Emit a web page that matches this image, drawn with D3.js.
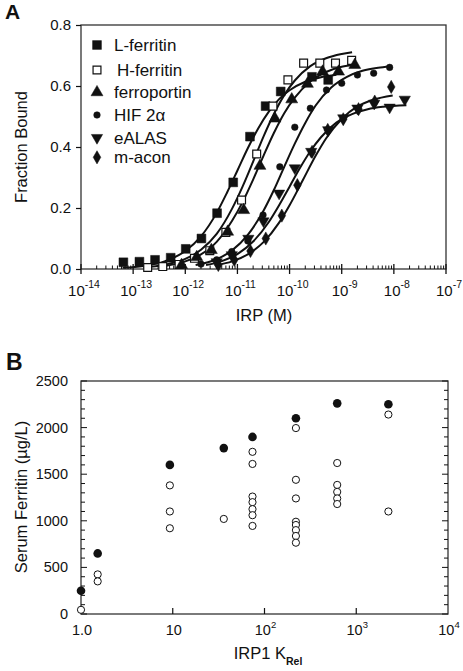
<!DOCTYPE html>
<html><head><meta charset="utf-8">
<script src="https://cdn.jsdelivr.net/npm/d3@7"></script>
<style>
html,body{margin:0;padding:0;background:#fff;}
svg{display:block;font-family:"Liberation Sans",Arial,Helvetica,sans-serif;}
</style></head>
<body><svg id="c" width="463" height="671"></svg>
<script>
// ---------- Panel A data ----------
const seriesNames = ["L-ferritin","H-ferritin","ferroportin","HIF 2α","eALAS","m-acon"];
const xTickExps = [-14,-13,-12,-11,-10,-9,-8,-7];
const yTicksA = [0.0,0.2,0.4,0.6,0.8];

const lFerritinConc  = [6.5e-14,1.32e-13,2.63e-13,5.25e-13,1.02e-12,2.04e-12,4.07e-12,8.3e-12,1.74e-11,3.47e-11,6.76e-11,2.69e-10,5.5e-10];
const lFerritinBound = [0.022,0.024,0.030,0.037,0.066,0.10,0.183,0.284,0.434,0.534,0.582,0.630,0.620];
const hFerritinConc  = [1.9e-13,3.7e-13,7.6e-13,1.5e-12,2.95e-12,6.0e-12,1.2e-11,2.34e-11,4.8e-11,9.3e-11,1.86e-10,3.8e-10,7.6e-10,1.55e-9];
const hFerritinBound = [0.005,0.008,0.015,0.035,0.06,0.12,0.226,0.377,0.534,0.620,0.675,0.675,0.675,0.684];
const ferroportinConc  = [8.5e-13,1.66e-12,3.16e-12,6.5e-12,1.32e-11,2.7e-11,5.25e-11,1.1e-10,2.2e-10,4.3e-10,8.7e-10,1.78e-9];
const ferroportinBound = [0.013,0.039,0.062,0.122,0.193,0.338,0.493,0.556,0.607,0.647,0.647,0.669];
const hif2aConc  = [2.0e-12,4.0e-12,7.8e-12,1.58e-11,3.1e-11,6.5e-11,1.26e-10,2.5e-10,5.1e-10,1.0e-9,2.0e-9,4.1e-9,8.3e-9];
const hif2aBound = [0.016,0.030,0.057,0.092,0.177,0.335,0.465,0.527,0.587,0.609,0.636,0.642,0.661];
const ealasConc  = [4.0e-12,7.8e-12,1.62e-11,3.16e-11,6.3e-11,1.26e-10,2.6e-10,5.5e-10,1.07e-9,2.0e-9,4.2e-9,8.3e-9,1.62e-8];
const ealasBound = [0.023,0.046,0.10,0.157,0.248,0.331,0.385,0.456,0.495,0.527,0.543,0.530,0.556];
const maconConc  = [4.3e-12,8.7e-12,1.78e-11,3.5e-11,7.1e-11,1.41e-10,2.7e-10,5.4e-10,1.07e-9,2.1e-9,4.3e-9,8.9e-9];
const maconBound = [0.013,0.030,0.059,0.10,0.175,0.275,0.384,0.456,0.491,0.524,0.549,0.597];

// fitted curves
const lFerritinFitConc  = [6.3e-14,1.58e-13,4e-13,1e-12,2e-12,4e-12,6.3e-12,1e-11,1.58e-11,2.5e-11,4e-11,6.3e-11,1e-10,2e-10,4e-10,7.9e-10];
const lFerritinFitBound = [0.004,0.010,0.025,0.059,0.107,0.184,0.250,0.323,0.396,0.461,0.516,0.557,0.586,0.614,0.629,0.637];
const hFerritinFitConc  = [1.58e-13,4e-13,1e-12,2e-12,4e-12,7.9e-12,1.26e-11,2e-11,3.16e-11,5e-11,7.9e-11,1.26e-10,2.5e-10,5e-10,1e-9,1.58e-9];
const hFerritinFitBound = [0.005,0.014,0.033,0.063,0.115,0.198,0.271,0.352,0.434,0.508,0.570,0.618,0.665,0.691,0.705,0.711];
const ferroportinFitConc  = [4e-13,1e-12,2e-12,4e-12,7.9e-12,1.26e-11,2e-11,3.16e-11,5e-11,7.9e-11,1.26e-10,2.5e-10,5e-10,1e-9,1.78e-9];
const ferroportinFitBound = [0.010,0.025,0.048,0.089,0.158,0.220,0.293,0.371,0.446,0.511,0.562,0.615,0.646,0.663,0.670];
const hif2aFitConc  = [1.58e-12,4e-12,7.9e-12,1.58e-11,3.16e-11,5e-11,7.9e-11,1.26e-10,2e-10,3.16e-10,6.3e-10,1.26e-9,2.5e-9,5e-9,8.3e-9];
const hif2aFitBound = [0.013,0.032,0.061,0.112,0.191,0.259,0.335,0.411,0.479,0.536,0.595,0.630,0.650,0.660,0.664];
const ealasFitConc  = [2.5e-12,5e-12,1e-11,2e-11,4e-11,6.3e-11,1e-10,1.58e-10,2.5e-10,4e-10,7.9e-10,1.58e-9,3.16e-9,6.3e-9,1.74e-8];
const ealasFitBound = [0.013,0.026,0.049,0.090,0.154,0.209,0.270,0.331,0.386,0.432,0.480,0.508,0.524,0.532,0.537];
const maconFitConc  = [4e-12,7.9e-12,1.58e-11,3.16e-11,6.3e-11,1e-10,1.78e-10,3.16e-10,5e-10,1e-9,2e-9,4e-9,9.5e-9];
const maconFitBound = [0.013,0.025,0.048,0.088,0.152,0.209,0.290,0.371,0.428,0.492,0.533,0.555,0.569];

// ---------- Panel B data ----------
const kRel = [1.0, 1.52, 9.3, 36, 74, 220, 620, 2240];
const maxFerritin = [250, 650, 1600, 1780, 1900, 2100, 2260, 2250];
const patientFerritin = [
  [45],
  [425, 350],
  [1380, 1100, 920],
  [1020],
  [1740, 1610, 1260, 1200, 1125, 1060, 945],
  [1995, 1440, 1240, 990, 955, 900, 837, 765],
  [1620, 1385, 1310, 1240, 1180],
  [2140, 1100]
];
const yTicksB = [0, 500, 1000, 1500, 2000, 2500];
const xTicksB = [1, 10, 100, 1000, 10000];
const xTickLabelsB = ["1.0", "10", "10", "10", "10"];
const xTickSupB = ["", "", "2", "3", "4"];

// ---------- drawing ----------
const svg = d3.select("#c");
const ink = "#111";

// Panel A
const xA = d3.scaleLog().domain([1e-14, 1e-7]).range([81, 446]);
const yA = d3.scaleLinear().domain([0, 0.8]).range([269, 25]);
const gA = svg.append("g");

gA.append("text").attr("x", 5).attr("y", 19).attr("font-size", 21).attr("font-weight", "bold").attr("fill", ink).text("A");

gA.append("rect").attr("x", xA.range()[0]).attr("y", yA(0.8)).attr("width", xA.range()[1]-xA.range()[0]).attr("height", yA(0)-yA(0.8))
  .attr("fill", "none").attr("stroke", "#333").attr("stroke-width", 1.3);

const yAxA = d3.axisLeft(yA).tickValues(yTicksA).tickFormat(d3.format(".1f")).tickSize(5).tickPadding(5);
const gyA = gA.append("g").attr("transform", `translate(${xA.range()[0]},0)`).call(yAxA);
gyA.select(".domain").remove();
gyA.selectAll("line").attr("stroke", ink).attr("stroke-width", 1.2);
gyA.selectAll("text").attr("font-size", 15).attr("fill", ink).attr("font-family", "Liberation Sans, Arial, sans-serif");

const minorA = [];
for (let e = -14; e < -7; e++) for (let m = 2; m <= 9; m++) minorA.push(m * Math.pow(10, e));
gA.selectAll(".minA").data(minorA).enter().append("line")
  .attr("x1", d => xA(d)).attr("x2", d => xA(d)).attr("y1", yA(0)).attr("y2", yA(0) - 3.5)
  .attr("stroke", ink).attr("stroke-width", 1);
gA.selectAll(".majA").data(xTickExps).enter().append("line")
  .attr("x1", d => xA(Math.pow(10, d))).attr("x2", d => xA(Math.pow(10, d)))
  .attr("y1", yA(0) - 5).attr("y2", yA(0) + 5)
  .attr("stroke", ink).attr("stroke-width", 1.3);
const xlabA = gA.selectAll(".xlA").data(xTickExps).enter().append("text")
  .attr("x", d => xA(Math.pow(10, d)) + 3).attr("y", 296)
  .attr("text-anchor", "middle").attr("font-size", 15).attr("fill", ink);
xlabA.append("tspan").text("10");
xlabA.append("tspan").attr("dy", -8).attr("font-size", 10.5).text(d => String(d));

gA.append("text").attr("x", 264).attr("y", 321).attr("text-anchor", "middle").attr("font-size", 16.5).attr("fill", ink).text("IRP (M)");
gA.append("text").attr("transform", "translate(27,147) rotate(-90)").attr("text-anchor", "middle").attr("font-size", 16.5).attr("fill", ink).text("Fraction Bound");

const pts = [
  [lFerritinConc, lFerritinBound],
  [hFerritinConc, hFerritinBound],
  [ferroportinConc, ferroportinBound],
  [hif2aConc, hif2aBound],
  [ealasConc, ealasBound],
  [maconConc, maconBound]
];
const fits = [
  [lFerritinFitConc, lFerritinFitBound],
  [hFerritinFitConc, hFerritinFitBound],
  [ferroportinFitConc, ferroportinFitBound],
  [hif2aFitConc, hif2aFitBound],
  [ealasFitConc, ealasFitBound],
  [maconFitConc, maconFitBound]
];
const markers = [
  {type: d3.symbolSquare, size: 78, fill: true, rot: 0},
  {type: d3.symbolSquare, size: 62, fill: false, rot: 0},
  {type: d3.symbolTriangle, size: 62, fill: true, rot: 0},
  {type: d3.symbolCircle, size: 34, fill: true, rot: 0},
  {type: d3.symbolTriangle, size: 55, fill: true, rot: 180},
  {type: d3.symbolDiamond, size: 50, fill: true, rot: 0}
];

const line = d3.line().x(d => xA(d[0])).y(d => yA(d[1])).curve(d3.curveMonotoneX);
fits.forEach(([c, b]) => {
  gA.append("path").attr("d", line(c.map((v, i) => [v, b[i]])))
    .attr("fill", "none").attr("stroke", ink).attr("stroke-width", 2);
});

function drawMarker(g, mk, x, y) {
  g.append("path").attr("d", d3.symbol().type(mk.type).size(mk.size)())
    .attr("transform", `translate(${x},${y}) rotate(${mk.rot})`)
    .attr("fill", mk.fill ? ink : "#fff").attr("stroke", ink).attr("stroke-width", mk.fill ? 0.5 : 1.2);
}
pts.forEach(([c, b], si) => {
  c.forEach((v, i) => drawMarker(gA, markers[si], xA(v), yA(b[i])));
});

const legY = [45, 70, 92.3, 115, 137.7, 157.3];
seriesNames.forEach((n, i) => {
  drawMarker(gA, markers[i], 97, legY[i]);
  gA.append("text").attr("x", i === 1 ? 117 : 114).attr("y", legY[i] + 6)
    .attr("font-size", 17).attr("fill", ink).text(n);
});

// Panel B
const xB = d3.scaleLog().domain([1, 1e4]).range([81, 448]);
const yB = d3.scaleLinear().domain([0, 2500]).range([614, 381]);
const gB = svg.append("g");
gB.append("text").attr("x", 6).attr("y", 370).attr("font-size", 23).attr("font-weight", "bold").attr("fill", ink).text("B");
gB.append("rect").attr("x", 81).attr("y", yB(2500)).attr("width", 448 - 81).attr("height", yB(0) - yB(2500))
  .attr("fill", "none").attr("stroke", "#333").attr("stroke-width", 1.3);

const minorB = d3.range(0, 2501, 100);
gB.selectAll(".mbl").data(minorB).enter().append("line")
  .attr("x1", 81).attr("x2", d => 81 + (d % 500 === 0 ? 6 : 4)).attr("y1", d => yB(d)).attr("y2", d => yB(d))
  .attr("stroke", ink).attr("stroke-width", 1);
gB.selectAll(".mbr").data(minorB).enter().append("line")
  .attr("x1", 448).attr("x2", d => 448 - (d % 500 === 0 ? 6 : 4)).attr("y1", d => yB(d)).attr("y2", d => yB(d))
  .attr("stroke", ink).attr("stroke-width", 1);
gB.selectAll(".ylB").data(yTicksB).enter().append("text")
  .attr("x", 68).attr("y", d => yB(d) + 5).attr("text-anchor", "end").attr("font-size", 14.5).attr("fill", ink)
  .text(d => String(d));
gB.selectAll(".xtB").data(xTicksB.slice(1, 4)).enter().append("line")
  .attr("x1", d => xB(d)).attr("x2", d => xB(d)).attr("y1", yB(0)).attr("y2", yB(0) - 6)
  .attr("stroke", ink).attr("stroke-width", 1.2);
const xlabB = gB.selectAll(".xlB").data(xTicksB).enter().append("text")
  .attr("x", d => xB(d) + 1).attr("y", 635).attr("text-anchor", "middle").attr("font-size", 14.5).attr("fill", ink);
xlabB.append("tspan").text((d, i) => xTickLabelsB[i]);
xlabB.append("tspan").attr("dy", -7).attr("font-size", 9.5).text((d, i) => xTickSupB[i]);

const xt = gB.append("text").attr("x", 268).attr("y", 659).attr("text-anchor", "middle").attr("font-size", 16.5).attr("fill", ink);
xt.append("tspan").text("IRP1 K");
xt.append("tspan").attr("dy", 6).attr("font-size", 10.5).attr("font-weight", "bold").text("Rel");
gB.append("text").attr("transform", "translate(27,497) rotate(-90)").attr("text-anchor", "middle").attr("font-size", 16.5).attr("fill", ink).text("Serum Ferritin (µg/L)");

kRel.forEach((k, gi) => {
  patientFerritin[gi].forEach(v => {
    gB.append("circle").attr("cx", xB(k)).attr("cy", yB(v)).attr("r", 3.6)
      .attr("fill", "#fff").attr("stroke", ink).attr("stroke-width", 1);
  });
  gB.append("circle").attr("cx", xB(k)).attr("cy", yB(maxFerritin[gi])).attr("r", 4.3).attr("fill", ink);
});
</script></body></html>
